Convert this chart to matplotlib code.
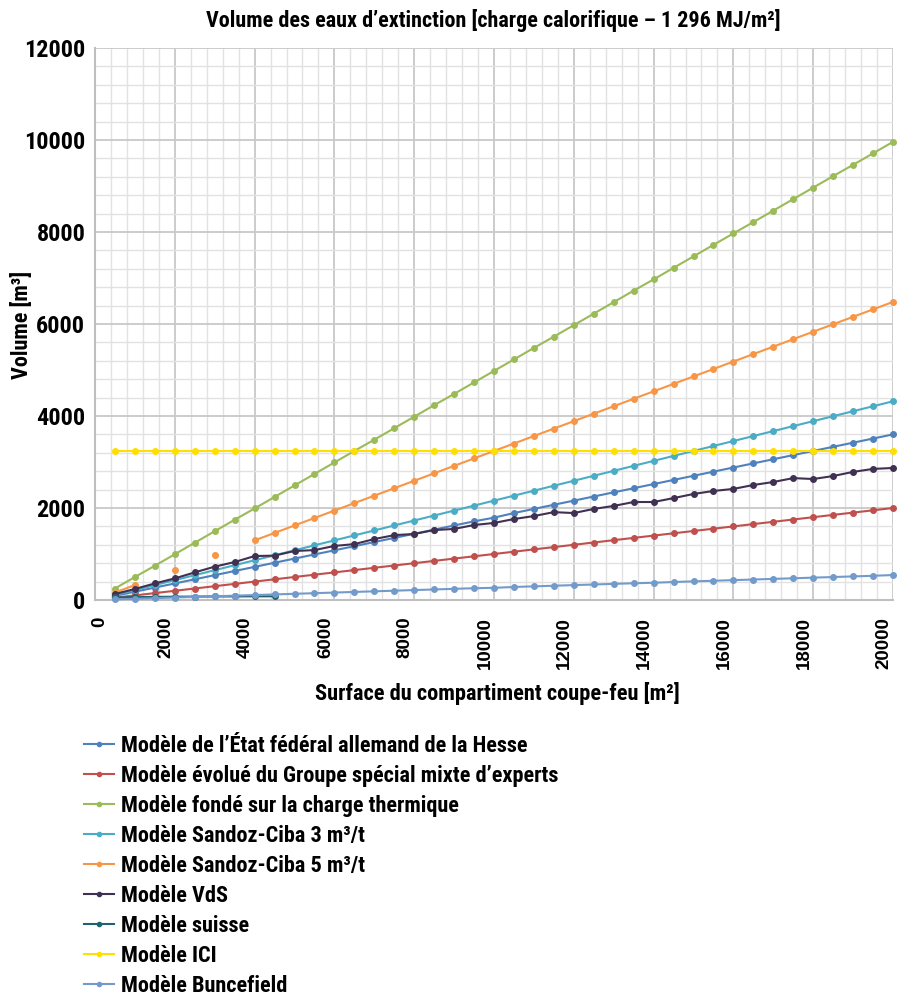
import numpy as np
import matplotlib
matplotlib.use('Agg')
import matplotlib.pyplot as plt
import matplotlib.transforms as mtransforms

plt.rcParams['font.family'] = ['Roboto Condensed', 'DejaVu Sans']
plt.rcParams['font.weight'] = 'bold'

nan = np.nan

# surface du compartiment (m2)
surface = [500, 1000, 1500, 2000, 2500, 3000, 3500, 4000, 4500, 5000,
           5500, 6000, 6500, 7000, 7500, 8000, 8500, 9000, 9500, 10000,
           10500, 11000, 11500, 12000, 12500, 13000, 13500, 14000, 14500, 15000,
           15500, 16000, 16500, 17000, 17500, 18000, 18500, 19000, 19500, 20000]

hesse = [90, 180, 270, 360, 450, 540, 630, 720, 810, 900,
         990, 1080, 1170, 1260, 1350, 1440, 1530, 1620, 1710, 1790,
         1890, 1980, 2070, 2160, 2250, 2340, 2430, 2520, 2610, 2700,
         2790, 2880, 2970, 3060, 3150, 3240, 3330, 3420, 3510, 3600]

groupe = [50, 100, 150, 200, 250, 300, 350, 400, 450, 500,
          550, 600, 650, 700, 750, 800, 850, 900, 950, 1000,
          1050, 1100, 1150, 1200, 1250, 1300, 1350, 1400, 1450, 1500,
          1550, 1600, 1650, 1700, 1750, 1800, 1850, 1900, 1950, 2000]

charge = [250, 500, 745, 995, 1245, 1495, 1745, 1990, 2240, 2490,
          2740, 2990, 3240, 3485, 3735, 3985, 4235, 4480, 4730, 4980,
          5230, 5480, 5725, 5975, 6225, 6475, 6725, 6970, 7220, 7470,
          7720, 7970, 8215, 8465, 8715, 8965, 9215, 9460, 9710, 9960]

sandoz3 = [108, 216, 324, 432, 540, 648, 756, 864, 972, 1080,
           1188, 1296, 1404, 1512, 1620, 1728, 1836, 1944, 2052, 2160,
           2268, 2376, 2484, 2592, 2700, 2808, 2916, 3024, 3132, 3240,
           3348, 3456, 3564, 3672, 3780, 3888, 3996, 4104, 4212, 4320]

sandoz5 = [162, 324, nan, 648, nan, 972, nan, 1296, 1458, 1620,
           1782, 1944, 2106, 2268, 2430, 2592, 2754, 2916, 3078, 3240,
           3402, 3564, 3726, 3888, 4050, 4212, 4374, 4536, 4698, 4860,
           5022, 5184, 5346, 5508, 5670, 5832, 5994, 6156, 6318, 6480]

vds = [130, 240, 360, 470, 600, 725, 825, 955, 965, 1065,
       1085, 1175, 1215, 1325, 1410, 1435, 1520, 1545, 1630, 1675,
       1760, 1825, 1910, 1890, 1980, 2045, 2130, 2130, 2215, 2305,
       2370, 2415, 2500, 2565, 2650, 2630, 2695, 2785, 2850, 2870]

suisse = [55, 62, 68, 72, 75, 77, 78, 80, 80, nan,
          nan, nan, nan, nan, nan, nan, nan, nan, nan, nan,
          nan, nan, nan, nan, nan, nan, nan, nan, nan, nan,
          nan, nan, nan, nan, nan, nan, nan, nan, nan, nan]

ici = [3240] * 40

buncefield = [14, 27, 40, 54, 67, 80, 94, 108, 121, 135,
              148, 162, 175, 189, 202, 216, 229, 243, 256, 265,
              283, 297, 310, 324, 337, 351, 364, 375, 391, 405,
              418, 432, 445, 459, 472, 486, 499, 513, 526, 543]

series = [
    ("Modèle de l’État fédéral allemand de la Hesse", hesse, '#4f81bd'),
    ("Modèle évolué du Groupe spécial mixte d’experts", groupe, '#c0504d'),
    ("Modèle fondé sur la charge thermique", charge, '#9bbb59'),
    ("Modèle Sandoz-Ciba 3 m³/t", sandoz3, '#4bacc6'),
    ("Modèle Sandoz-Ciba 5 m³/t", sandoz5, '#f79646'),
    ("Modèle VdS", vds, '#403152'),
    ("Modèle suisse", suisse, '#1f6370'),
    ("Modèle ICI", ici, '#ffdf00'),
    ("Modèle Buncefield", buncefield, '#729bcc'),
]

fig = plt.figure(figsize=(8.97, 9.97), dpi=100)
ax = fig.add_axes([95/897, 1-600/997, 798/897, 552/997])

for name, vals, col in series:
    ax.plot(surface, vals, color=col, lw=1.5, marker='o', markersize=4,
            label=name, clip_on=False, zorder=3)

ax.set_xlim(0, 20000)
ax.set_ylim(0, 12000)
ax.set_xticks(range(0, 20001, 2000))
ax.set_xticks(range(0, 20001, 400), minor=True)
ax.set_yticks(range(0, 12001, 2000))
ax.set_yticks(range(0, 12001, 400), minor=True)
ax.grid(which='major', color='#c8c8c8', lw=1.3, zorder=0)
ax.grid(which='minor', color='#e2e2e2', lw=1.0, zorder=0)
ax.set_axisbelow(True)
ax.tick_params(which='both', length=0)
ax.tick_params(axis='y', labelsize=17.5, pad=7)
ax.tick_params(axis='x', labelsize=13.5, pad=12)
for s in ['top', 'right']:
    ax.spines[s].set_visible(False)
for s in ['left', 'bottom']:
    ax.spines[s].set_color('#bfbfbf')
    ax.spines[s].set_linewidth(1.5)

for i, lab in enumerate(ax.get_xticklabels()):
    dx = 5 if i == 0 else -9
    offset = mtransforms.ScaledTranslation(dx/100, 0, fig.dpi_scale_trans)
    lab.set_rotation(90)
    lab.set_family(['Liberation Sans', 'DejaVu Sans'])
    lab.set_weight('bold')
    lab.set_transform(lab.get_transform() + offset)
for lab in ax.get_yticklabels():
    lab.set_weight('bold')

fig.text(493/897, 1-20/997,
         "Volume des eaux d’extinction [charge calorifique – 1 296 MJ/m²]",
         ha='center', va='center', fontsize=15.9, weight='bold')
fig.text(22/897, 1-325/997, "Volume [m³]", rotation=90,
         ha='center', va='center', fontsize=16, weight='bold')
fig.text(497/897, 1-693/997, "Surface du compartiment coupe-feu [m²]",
         ha='center', va='center', fontsize=16.1, weight='bold')

fig.legend(loc='upper left', bbox_to_anchor=(84/897, 1-735/997),
           frameon=False, handlelength=1.35, handletextpad=0.3,
           labelspacing=0.36, borderpad=0, borderaxespad=0, markerscale=0.75,
           prop={'weight': 'bold', 'size': 16})

fig.savefig('out.png', dpi=100)
